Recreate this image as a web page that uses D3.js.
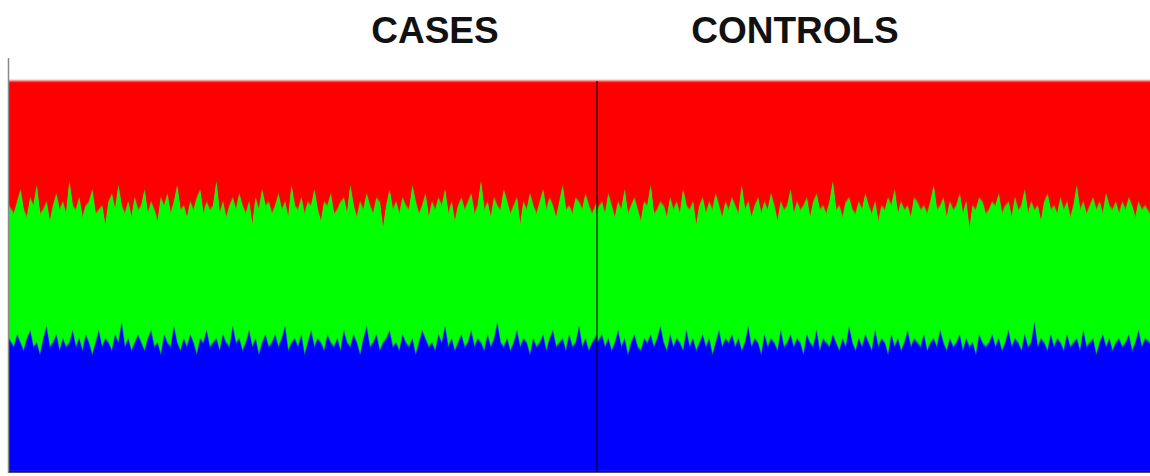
<!DOCTYPE html>
<html>
<head>
<meta charset="utf-8">
<script src="https://cdn.jsdelivr.net/npm/d3@7"></script>
<style>
  html, body { margin: 0; padding: 0; background: #fff; }
  svg { display: block; }
</style>
</head>
<body>
<svg id="chart" width="1150" height="476"></svg>
<script>
// ---------------- DATA (ancestry proportions, %, per individual) ----------------
const groups = ["CASES", "CONTROLS"];
const clusters = ["red", "green", "blue"];
const clusterColors = ["#ff0000", "#00ff00", "#0000ff"];

const casesRed = [
32,34,31,28,33,35,30,32,27,34,33,31,36,32,29,33,31,34,26,32,
33,30,35,32,31,28,34,33,32,37,31,29,33,27,32,34,31,35,30,33,
32,28,34,31,33,36,30,32,29,34,31,27,33,32,35,31,33,30,28,34,
31,33,32,26,34,31,35,32,30,33,29,32,34,31,37,30,33,28,32,31,
34,32,29,33,31,35,27,32,33,30,34,31,32,28,33,36,31,32,29,34,
33,31,30,34,27,32,35,31,33,29,32,34,30,31,38,32,28,33,31,34,
30,32,33,27,31,34,32,29,35,31,33,30,32,28,34,31,36,32,30,33,
31,29,34,32,26,33,31,35,30,32,33,28,31,34,32,30,37,31,33,29,
32,34,31,28,33,30,32,35,31,27,33,32,34,30,31,33,29,32,34,31];
const casesGreen = [
34,34,34,39,36,31,34,36,40,36,33,32,32,35,36,36,35,34,41,32,
35,36,34,33,36,42,33,31,36,29,36,40,32,40,30,34,35,34,37,32,
35,41,32,33,35,31,40,33,38,34,32,40,36,34,33,34,34,40,38,33,
33,35,35,40,35,34,32,36,33,34,37,37,33,33,31,36,37,39,33,37,
33,33,39,33,32,34,40,34,35,35,36,36,32,40,33,31,38,33,38,34,
33,38,34,33,41,33,32,39,33,34,36,33,35,38,29,34,36,35,36,35,
35,35,35,39,39,33,32,37,33,36,36,35,35,35,34,35,33,35,35,35,
36,35,34,34,41,36,34,33,36,30,34,40,35,35,35,34,31,35,34,41,
34,34,36,37,36,36,32,33,36,39,36,33,34,37,32,35,37,37,33,34];
const casesBlue = [
34,32,35,33,31,34,36,32,33,30,34,37,32,33,35,31,34,32,33,36,
32,34,31,35,33,30,33,36,32,34,33,31,35,33,38,32,34,31,33,35,
33,31,34,36,32,33,30,35,33,32,37,33,31,34,32,35,33,30,34,33,
36,32,33,34,31,35,33,32,37,33,34,31,33,36,32,34,30,33,35,32,
33,35,32,34,37,31,33,34,32,35,30,33,36,32,34,33,31,35,33,32,
34,31,36,33,32,35,33,30,34,37,32,33,35,31,33,34,36,32,33,31,
35,33,32,34,30,33,36,34,32,33,31,35,33,37,32,34,31,33,35,32,
33,36,32,34,33,31,35,32,34,38,33,32,34,31,33,36,32,34,33,30,
34,32,33,35,31,34,36,32,33,34,31,35,32,33,37,32,34,31,33,35];

const controlsRed = [
33,31,34,29,32,35,31,33,28,34,32,30,33,36,31,32,27,34,33,31,
32,35,30,33,31,34,28,32,33,31,37,32,30,34,31,33,29,32,35,31,
33,30,32,34,27,33,31,35,32,30,34,31,33,29,32,36,31,33,32,28,
34,31,33,32,30,35,31,29,33,32,34,31,26,33,32,35,31,30,33,34,
31,33,29,32,34,31,36,32,33,30,32,28,34,31,33,32,35,30,31,33,
32,34,31,27,33,32,30,35,31,33,32,29,34,31,38,32,33,30,31,34,
33,31,32,29,34,32,31,35,30,33,32,28,34,31,33,32,36,31,29,33,
32,34,30,33,31,35,32,27,33,31,34,32,30,33,31,34,29,32,33,31,
34,31,33,30,32,35,31,33,32,34];
const controlsGreen = [
34,34,34,37,37,32,33,35,38,36,35,35,35,33,35,35,38,34,33,32,
35,34,35,35,35,33,41,32,35,35,32,35,35,34,35,37,38,32,33,35,
34,35,36,32,42,34,32,33,34,37,36,34,35,37,35,33,33,35,35,37,
34,35,34,38,35,32,37,35,36,34,33,37,39,34,37,31,37,33,34,35,
35,35,36,35,35,33,32,34,34,40,33,40,32,38,34,32,33,36,36,35,
33,35,36,39,35,32,37,34,35,35,35,36,35,35,30,35,37,35,36,34,
34,34,36,37,35,35,33,33,36,34,37,37,34,36,29,36,30,36,40,32,
36,32,37,36,34,33,35,39,36,33,34,35,36,37,36,31,39,34,36,36,
32,37,34,35,37,32,33,35,34,33];
const controlsBlue = [
33,35,32,34,31,33,36,32,34,30,33,35,32,31,34,33,35,32,34,37,
33,31,35,32,34,33,31,36,32,34,31,33,35,32,34,30,33,36,32,34,
33,35,32,34,31,33,37,32,34,33,30,35,32,34,33,31,36,32,33,35,
32,34,33,30,35,33,32,36,31,34,33,32,35,33,31,34,32,37,33,31,
34,32,35,33,31,36,32,34,33,30,35,32,34,31,33,36,32,34,33,32,
35,31,33,34,32,36,33,31,34,32,33,35,31,34,32,33,30,35,33,32,
33,35,32,34,31,33,36,32,34,33,31,35,32,33,38,32,34,33,31,35,
32,34,33,31,35,32,33,34,31,36,32,33,34,30,33,35,32,34,31,33,
34,32,33,35,31,33,36,32,34,33];

// ---------------- BUILD TABLES ----------------
function buildRows(prefix, red, green, blue) {
  return red.map((v, i) => ({ id: prefix + i, red: v, green: green[i], blue: blue[i] }));
}
const groupRows = {
  "CASES": buildRows("case", casesRed, casesGreen, casesBlue),
  "CONTROLS": buildRows("ctrl", controlsRed, controlsGreen, controlsBlue)
};

// ---------------- LAYOUT ----------------
const W = 1150, H = 476;
const plot = { left: 9, right: 1150, top: 81, bottom: 472 };
const splitX = 597;
const groupRange = { "CASES": [plot.left, splitX], "CONTROLS": [splitX, plot.right] };

const svg = d3.select("#chart");
const y = d3.scaleLinear().domain([0, 1]).range([plot.top, plot.bottom]);
const color = d3.scaleOrdinal().domain(clusters).range(clusterColors);
const stack = d3.stack().keys(clusters).offset(d3.stackOffsetExpand);

const defs = svg.append("defs");
const filt = defs.append("filter").attr("id", "soft")
  .attr("filterUnits", "userSpaceOnUse")
  .attr("color-interpolation-filters", "sRGB")
  .attr("x", 0).attr("y", 0).attr("width", W).attr("height", H);
filt.append("feGaussianBlur").attr("stdDeviation", "0.7 1.3");
defs.append("clipPath").attr("id", "plotclip")
  .append("rect").attr("x", plot.left).attr("y", 0)
  .attr("width", plot.right - plot.left).attr("height", plot.bottom);

const outer = svg.append("g").attr("clip-path", "url(#plotclip)");
const barsG = outer.append("g").attr("filter", "url(#soft)");

groups.forEach(g => {
  const rows = groupRows[g];
  const x = d3.scaleBand().domain(rows.map(d => d.id)).range(groupRange[g]).padding(0);
  const last = rows.length - 1;
  const xPos = (d, i) => i === 0 ? groupRange[g][0]
                      : i === last ? groupRange[g][1]
                      : x(d.data.id) + x.bandwidth() / 2;
  const area = d3.area()
    .x(xPos)
    .y0(d => y(d[0]))
    .y1(d => y(d[1]))
    .curve(d3.curveLinear);
  const series = stack(rows);
  barsG.append("g").attr("class", "group-" + g)
    .selectAll("path")
    .data(series)
    .join("path")
    .attr("fill", s => color(s.key))
    .attr("stroke", s => color(s.key))
    .attr("stroke-width", 0.4)
    .attr("d", area);
});

// group divider
svg.append("line")
  .attr("x1", splitX).attr("x2", splitX)
  .attr("y1", plot.top).attr("y2", plot.bottom)
  .attr("stroke", "#000").attr("stroke-opacity", 0.7).attr("stroke-width", 1.6);

// left axis line
svg.append("line")
  .attr("x1", plot.left - 0.5).attr("x2", plot.left - 0.5)
  .attr("y1", 58).attr("y2", plot.bottom + 1)
  .attr("stroke", "#8a8a8a").attr("stroke-width", 1.5);

// bottom axis line
svg.append("line")
  .attr("x1", plot.left).attr("x2", plot.right)
  .attr("y1", plot.bottom).attr("y2", plot.bottom)
  .attr("stroke", "#000022").attr("stroke-opacity", 0.7).attr("stroke-width", 2);

// group titles
const titleX = { "CASES": 435, "CONTROLS": 795 };
svg.selectAll("text.title")
  .data(groups)
  .join("text")
  .attr("class", "title")
  .attr("x", g => titleX[g])
  .attr("y", 43)
  .attr("text-anchor", "middle")
  .attr("font-family", "'Liberation Sans', Arial, sans-serif")
  .attr("font-weight", "bold")
  .attr("font-size", 37)
  .attr("fill", "#111")
  .text(g => g);
</script>
</body>
</html>
